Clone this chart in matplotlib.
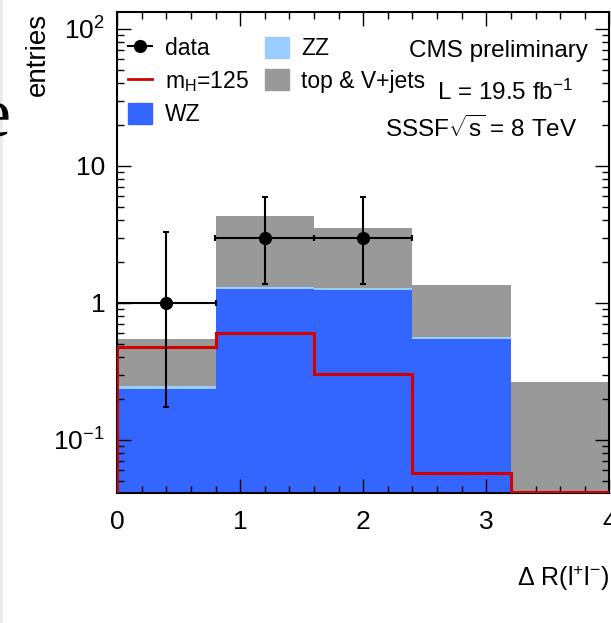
import numpy as np
import matplotlib
matplotlib.use('Agg')
import matplotlib.pyplot as plt
from matplotlib.patches import Patch, Rectangle
from matplotlib.lines import Line2D
from matplotlib.ticker import MultipleLocator, LogLocator, NullFormatter

plt.rcParams['font.family'] = 'Liberation Sans'
plt.rcParams['mathtext.fontset'] = 'custom'
plt.rcParams['mathtext.rm'] = 'Liberation Sans'
plt.rcParams['mathtext.it'] = 'Liberation Sans:italic'
plt.rcParams['mathtext.bf'] = 'Liberation Sans:bold'

# histogram bins in Delta R
edges = [0.0, 0.8, 1.6, 2.4, 3.2, 4.0]
wz = [0.235, 1.26, 1.24, 0.545, 0.0]
zz = [0.012, 0.05, 0.05, 0.02, 0.0]
top_vjets = [0.30, 3.0, 2.24, 0.785, 0.265]
higgs = [0.477, 0.604, 0.303, 0.057, 0.042]

# observed data with asymmetric poisson errors
data_x = [0.4, 1.2, 2.0]
data_y = [1, 3, 3]
data_lo = [0.827, 1.63, 1.63]
data_hi = [2.30, 2.92, 2.92]

W, H = 611, 623
def fx(px):
    return px / W
def fy(py):
    return 1 - py / H

fig = plt.figure(figsize=(W / 100, H / 100), dpi=100)
ax = fig.add_axes([fx(117), fy(493), fx(609.5) - fx(117), fy(12) - fy(493)])
ax.set_yscale('log')

floor = 1e-3
wz_a = np.array(wz)
zz_top = wz_a + np.array(zz)
total = zz_top + np.array(top_vjets)

ax.stairs(np.maximum(total, floor), edges, baseline=np.maximum(zz_top, floor),
          fill=True, color='#999999', zorder=1)
ax.stairs(np.maximum(zz_top, floor), edges, baseline=np.maximum(wz_a, floor),
          fill=True, color='#99ccff', zorder=1)
ax.stairs(np.maximum(wz_a, floor), edges, baseline=floor,
          fill=True, color='#3366ff', zorder=1)
ax.stairs(higgs, edges, baseline=floor, color='#d40000', lw=2.2, zorder=3)

ax.errorbar(data_x, data_y, xerr=0.4, yerr=[data_lo, data_hi], fmt='o', color='k',
            ms=8.5, lw=1.5, capsize=2.5, capthick=1.5, zorder=5)

ax.set_xlim(0, 4)
ax.set_ylim(0.041, 133)
ax.set_xticks([0, 1, 2, 3, 4])
ax.xaxis.set_minor_locator(MultipleLocator(0.2))
ax.set_yticks([0.1, 1, 10, 100], ['10$^{\\mathrm{-1}}$', '1', '10', '10$^{2}$'])
ax.yaxis.set_minor_locator(LogLocator(base=10, subs=np.arange(2, 10)))
ax.yaxis.set_minor_formatter(NullFormatter())

ax.tick_params(which='both', direction='in', top=True, right=True, width=1.0)
ax.tick_params(which='major', length=10)
ax.tick_params(which='minor', length=5)
ax.tick_params(axis='y', which='major', pad=8.5, labelsize=19)
ax.tick_params(axis='x', which='major', pad=12, labelsize=19)
for s in ax.spines.values():
    s.set_linewidth(1.5)

handles = [Line2D([], [], color='k', marker='o', ms=8.5, lw=1.5),
           Line2D([], [], color='#d40000', lw=2),
           Patch(color='#3366ff'), Patch(color='#99ccff'), Patch(color='#999999')]
labels = ['data', 'm$_{\\mathrm{H}}$=125', 'WZ', 'ZZ', 'top & V+jets']
ax.legend(handles, labels, ncol=2, loc='upper left', bbox_to_anchor=(0.022, 0.948),
          frameon=False, fontsize=16.5, handlelength=1.05, handleheight=1.05,
          handletextpad=0.55, labelspacing=0.38, columnspacing=0.7,
          borderpad=0, borderaxespad=0)

fig.text(fx(588), fy(57), 'CMS preliminary', fontsize=17.5, ha='right', va='baseline')
fig.text(fx(573), fy(100), 'L = 19.5 fb$^{-1}$', fontsize=17.5, ha='right', va='baseline')
fig.text(fx(577), fy(137), 'SSSF$\\sqrt{\\mathrm{s}}$ = 8 TeV', fontsize=17.5,
         ha='right', va='baseline')

fig.text(fx(38), fy(13), 'entries', fontsize=20, rotation=90, ha='center', va='top')
fig.text(fx(609), fy(578), 'Δ R(l$^{+}$l$^{-}$)', fontsize=18, ha='right', va='center')

# bits of the surrounding page
fig.text(fx(10), fy(135), 'e', family='Liberation Serif', fontsize=50, ha='right', va='baseline')
fig.add_artist(Rectangle((0, 0), fx(3), 1, transform=fig.transFigure, color='#ececec', lw=0))

fig.savefig('out.png', dpi=100)
